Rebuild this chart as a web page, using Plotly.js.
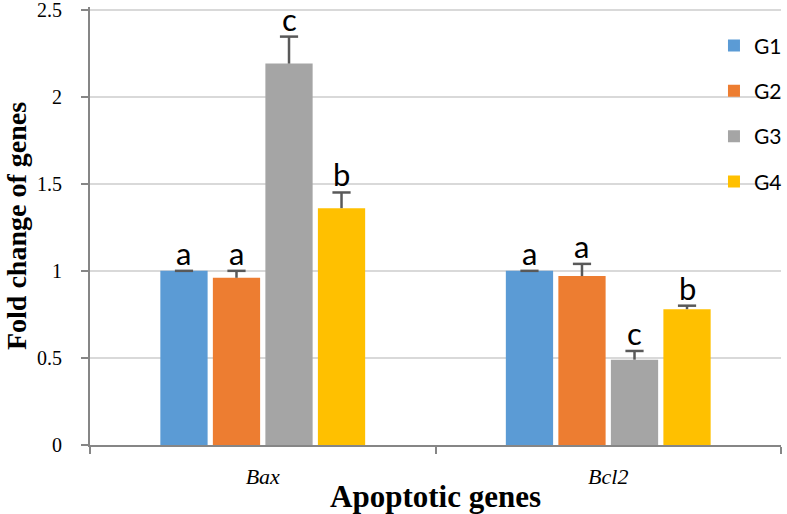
<!DOCTYPE html>
<html>
<head>
<meta charset="utf-8">
<script src="https://cdn.plot.ly/plotly-3.0.1.min.js"></script>
<style>html,body{margin:0;padding:0;background:#fff;}#chart{width:787px;height:514px;}</style>
</head>
<body>
<div id="chart"></div>
<script>
const categories = ['<i>Bax</i>', '<i>Bcl2</i>'];
const groupNames = ['G1', 'G2', 'G3', 'G4'];
const colors = ['#5B9BD5', '#ED7D31', '#A5A5A5', '#FFC000'];
const g1Values = [1.00, 1.00];
const g2Values = [0.96, 0.97];
const g3Values = [2.19, 0.49];
const g4Values = [1.36, 0.78];
const g1Errors = [0.00, 0.00];
const g2Errors = [0.04, 0.07];
const g3Errors = [0.155, 0.05];
const g4Errors = [0.09, 0.02];
const g1Letters = ['a', 'a'];
const g2Letters = ['a', 'a'];
const g3Letters = ['c', 'c'];
const g4Letters = ['b', 'b'];
const yTicks = [0, 0.5, 1, 1.5, 2, 2.5];
const yTickLabels = ['0', '0.5', '1', '1.5', '2', '2.5'];

const values = [g1Values, g2Values, g3Values, g4Values];
const errors = [g1Errors, g2Errors, g3Errors, g4Errors];
const letters = [g1Letters, g2Letters, g3Letters, g4Letters];

const bargap = 0.392;
const slot = (1 - bargap) / groupNames.length;
const barX = (i, j) => j + (i - (groupNames.length - 1) / 2) * slot;

const traces = groupNames.map((name, i) => ({
  type: 'bar',
  name: name,
  x: categories,
  y: values[i],
  legendgroup: name,
  marker: {color: colors[i], line: {width: 0}},
  hoverinfo: 'skip'
}));

// error bars (upper only, Excel style): stems + caps on an overlaid linear axis
const stemX = [], stemY = [], capX = [], capY = [];
groupNames.forEach((name, i) => {
  categories.forEach((c, j) => {
    const x = barX(i, j);
    stemX.push(x, x, null);
    stemY.push(values[i][j], values[i][j] + errors[i][j], null);
    capX.push(x);
    capY.push(values[i][j] + errors[i][j]);
  });
});
traces.push({
  type: 'scatter', mode: 'lines', xaxis: 'x2', yaxis: 'y',
  x: stemX, y: stemY, connectgaps: false,
  line: {color: '#595959', width: 2.5}, showlegend: false, hoverinfo: 'skip'
});
traces.push({
  type: 'scatter', mode: 'markers', xaxis: 'x2', yaxis: 'y',
  x: capX, y: capY, cliponaxis: false,
  marker: {symbol: 'line-ew', size: 13, line: {color: '#595959', width: 2.5}},
  showlegend: false, hoverinfo: 'skip'
});

const annotations = [];
groupNames.forEach((name, i) => {
  categories.forEach((c, j) => {
    annotations.push({
      xref: 'x2', yref: 'y',
      x: barX(i, j),
      y: values[i][j] + errors[i][j],
      text: letters[i][j],
      showarrow: false,
      yanchor: 'bottom',
      yshift: -3,
      font: {family: 'Lato, "Open Sans", sans-serif', size: 31, color: '#000'}
    });
  });
});

const serif = '"Liberation Serif", "Times New Roman", serif';

const layout = {
  width: 787, height: 514,
  margin: {l: 90, r: 6, t: 7, b: 69, autoexpand: false},
  paper_bgcolor: '#fff', plot_bgcolor: '#fff',
  barmode: 'group',
  bargap: bargap,
  bargroupgap: 0.1,
  showlegend: true,
  legend: {
    x: 0.903, xanchor: 'left', y: 0.958, yanchor: 'top',
    bgcolor: 'rgba(0,0,0,0)',
    font: {family: 'Lato, "Open Sans", sans-serif', size: 21, color: '#000'},
    tracegroupgap: 15,
    traceorder: 'grouped'
  },
  xaxis: {
    type: 'category', range: [-0.5, 1.5],
    showline: true, linecolor: '#868686', linewidth: 2,
    ticks: 'outside', tickson: 'boundaries', ticklen: 7, tickwidth: 2, tickcolor: '#868686',
    showgrid: false,
    tickfont: {family: serif, size: 22, color: '#000'},
    ticklabelstandoff: 11,
    title: {text: '<b>Apoptotic genes</b>', standoff: 0,
      font: {family: serif, size: 31, color: '#000'}}
  },
  xaxis2: {
    type: 'linear', overlaying: 'x', range: [-0.5, 1.5],
    visible: false, showgrid: false, zeroline: false, fixedrange: true
  },
  yaxis: {
    range: [0, 2.515], tickmode: 'array', tickvals: yTicks, ticktext: yTickLabels,
    showline: true, linecolor: '#868686', linewidth: 2,
    ticks: 'outside', ticklen: 7, tickwidth: 2, tickcolor: '#868686',
    showgrid: true, gridcolor: '#D9D9D9', gridwidth: 2,
    zeroline: false,
    ticklabeloverflow: 'allow',
    tickfont: {family: serif, size: 20, color: '#000'},
    ticklabelstandoff: 15,
    title: {text: '<b>Fold change of genes</b>', standoff: 2,
      font: {family: serif, size: 28, color: '#000'}}
  },
  annotations: annotations
};

Plotly.newPlot('chart', traces, layout, {displayModeBar: false, staticPlot: true});
</script>
</body>
</html>
